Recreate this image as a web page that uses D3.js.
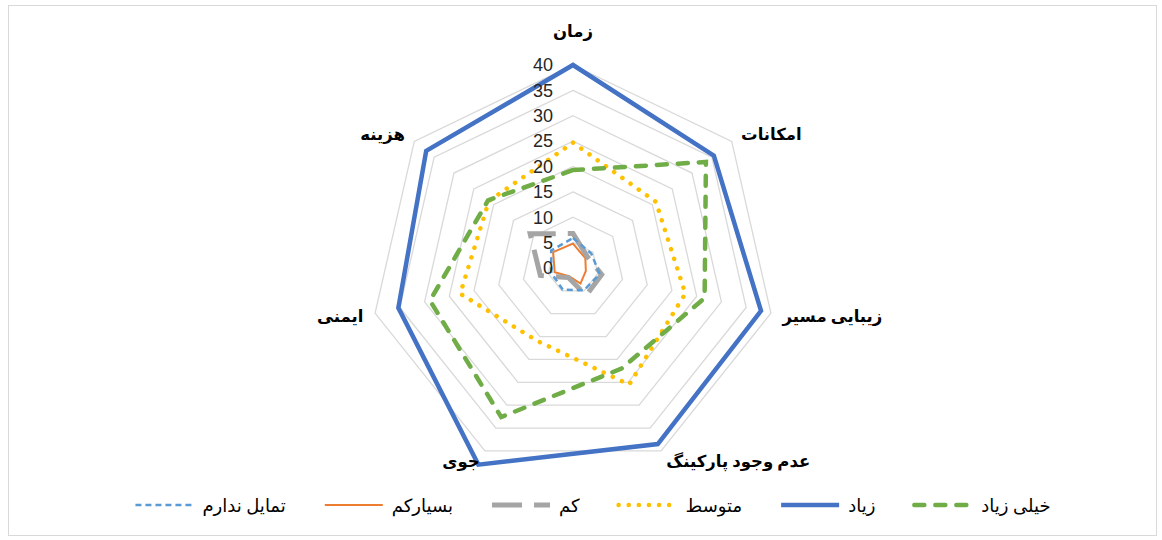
<!DOCTYPE html>
<html>
<head>
<meta charset="utf-8">
<script src="https://cdn.jsdelivr.net/npm/d3@7"></script>
<style>
  html, body { margin: 0; padding: 0; background: #fff; }
  #chart { width: 1162px; height: 540px; }
  text { font-family: "Times New Roman", "Liberation Serif", "DejaVu Sans", serif; }
  .tick-label { font-family: "Liberation Sans", Arial, sans-serif; font-size: 18px; fill: #262626; }
  .axis-label { font-size: 16.5px; font-weight: bold; fill: #000; }
  .legend-label { font-size: 18px; fill: #000; }
</style>
</head>
<body>
<div id="chart"></div>
<script>
// axes of the radar, clockwise from the top
const axes = ['زمان', 'امکانات', 'زیبایی مسیر', 'عدم وجود پارکینگ', 'جوی', 'ایمنی', 'هزینه'];

// series values, one per axis
const ziad       = [40, 35.5, 38, 38.5, 43, 35.3, 37];      // زیاد
const besyarkam  = [4.8, 3.1, 2.6, 3.4, 1.8, 3.7, 5.0];     // بسیارکم
const kam        = [6.8, 3.6, 5.8, 6.0, 2.1, 6.6, 10.8];    // کم
const motavaset  = [24.7, 20.9, 22.7, 25.5, 16, 22.8, 21.2]; // متوسط
const tamayol    = [5.9, 4.6, 5.4, 4.9, 4.7, 4.4, 5.5];     // تمایل ندارم
const kheiliZiad = [19.3, 33.5, 26.6, 22, 32.6, 28.9, 21.4]; // خیلی زیاد

const radialTicks = [0, 5, 10, 15, 20, 25, 30, 35, 40];

// drawing order (Excel series order), styles kept apart from the data
const series = [
  { name: 'زیاد', values: ziad, color: '#4472C4', width: 4.5, dash: null, cap: 'butt' },
  { name: 'بسیارکم', values: besyarkam, color: '#ED7D31', width: 2, dash: null, cap: 'butt' },
  { name: 'کم', values: kam, color: '#A5A5A5', width: 5, dash: '30,12', cap: 'butt' },
  { name: 'متوسط', values: motavaset, color: '#FFC000', width: 4.5, dash: '0.1,10', cap: 'round' },
  { name: 'تمایل ندارم', values: tamayol, color: '#5B9BD5', width: 2.5, dash: '6,4', cap: 'butt' },
  { name: 'خیلی زیاد', values: kheiliZiad, color: '#70AD47', width: 4.5, dash: '10,11', cap: 'round' }
];

// legend order, left to right as shown
const legendOrder = ['تمایل ندارم', 'بسیارکم', 'کم', 'متوسط', 'زیاد', 'خیلی زیاد'];

const width = 1162, height = 540;
const cx = 573, cy = 268, R = 203;

const svg = d3.select('#chart').append('svg')
  .attr('width', width)
  .attr('height', height);

// chart border
svg.append('rect')
  .attr('x', 8.5).attr('y', 5.5)
  .attr('width', 1148).attr('height', 530)
  .attr('fill', '#fff')
  .attr('stroke', '#d9d9d9')
  .attr('stroke-width', 1);

const g = svg.append('g').attr('transform', `translate(${cx},${cy})`);

const r = d3.scaleLinear().domain([0, 40]).range([0, R]);
const angle = d3.scaleLinear().domain([0, axes.length]).range([0, 2 * Math.PI]);

const radial = d3.lineRadial()
  .angle((d, i) => angle(i))
  .radius(d => r(d))
  .curve(d3.curveLinearClosed);

// grid rings
g.selectAll('path.ring')
  .data(radialTicks.filter(t => t > 0))
  .enter()
  .append('path')
  .attr('class', 'ring')
  .attr('d', t => radial(axes.map(() => t)))
  .attr('fill', 'none')
  .attr('stroke', '#d9d9d9')
  .attr('stroke-width', 1.3);

// series
g.selectAll('path.series')
  .data(series)
  .enter()
  .append('path')
  .attr('class', 'series')
  .attr('d', d => radial(d.values))
  .attr('fill', 'none')
  .attr('stroke', d => d.color)
  .attr('stroke-width', d => d.width)
  .attr('stroke-dasharray', d => d.dash)
  .attr('stroke-linecap', d => d.cap)
  .attr('stroke-linejoin', 'miter');

// radial tick labels
g.selectAll('text.tick-label')
  .data(radialTicks)
  .enter()
  .append('text')
  .attr('class', 'tick-label')
  .attr('x', -20)
  .attr('y', t => -r(t))
  .attr('dy', '0.35em')
  .attr('text-anchor', 'end')
  .text(t => t);

// axis labels
g.selectAll('text.axis-label')
  .data(axes)
  .enter()
  .append('text')
  .attr('class', 'axis-label')
  .attr('direction', 'ltr')
  .each(function (d, i) {
    const a = angle(i);
    const dx = Math.sin(a), dy = -Math.cos(a);
    const rr = R + 12;
    let x = dx * rr, y = dy * rr, anchor = 'middle';
    if (dx > 0.1) anchor = 'start';
    else if (dx < -0.1) anchor = 'end';
    else y -= 22;
    d3.select(this)
      .attr('x', x)
      .attr('y', y)
      .attr('dy', '0.35em')
      .attr('text-anchor', anchor)
      .text(d);
  });

// legend
const legend = svg.append('g').attr('class', 'legend');
const symbolW = 62, symbolGap = 7, itemGap = 37, legendY = 506;
const items = legendOrder.map(name => series.find(s => s.name === name));

const entries = legend.selectAll('g.entry')
  .data(items)
  .enter()
  .append('g')
  .attr('class', 'entry');

entries.append('text')
  .attr('class', 'legend-label')
  .attr('direction', 'ltr')
  .attr('text-anchor', 'start')
  .attr('y', legendY)
  .attr('dy', '0.35em')
  .text(d => d.name);

const widths = [];
entries.select('text').each(function () { widths.push(this.getComputedTextLength()); });
const total = d3.sum(widths) + items.length * (symbolW + symbolGap) + (items.length - 1) * itemGap;
let xPos = 592 - total / 2;

entries.each(function (d, i) {
  const e = d3.select(this);
  e.append('line')
    .attr('x1', xPos + 2).attr('x2', xPos + symbolW - 2)
    .attr('y1', legendY - 1).attr('y2', legendY - 1)
    .attr('stroke', d.color)
    .attr('stroke-width', d.width)
    .attr('stroke-dasharray', d.dash)
    .attr('stroke-linecap', d.cap);
  e.select('text').attr('x', xPos + symbolW + symbolGap);
  xPos += symbolW + symbolGap + widths[i] + itemGap;
});
</script>
</body>
</html>
